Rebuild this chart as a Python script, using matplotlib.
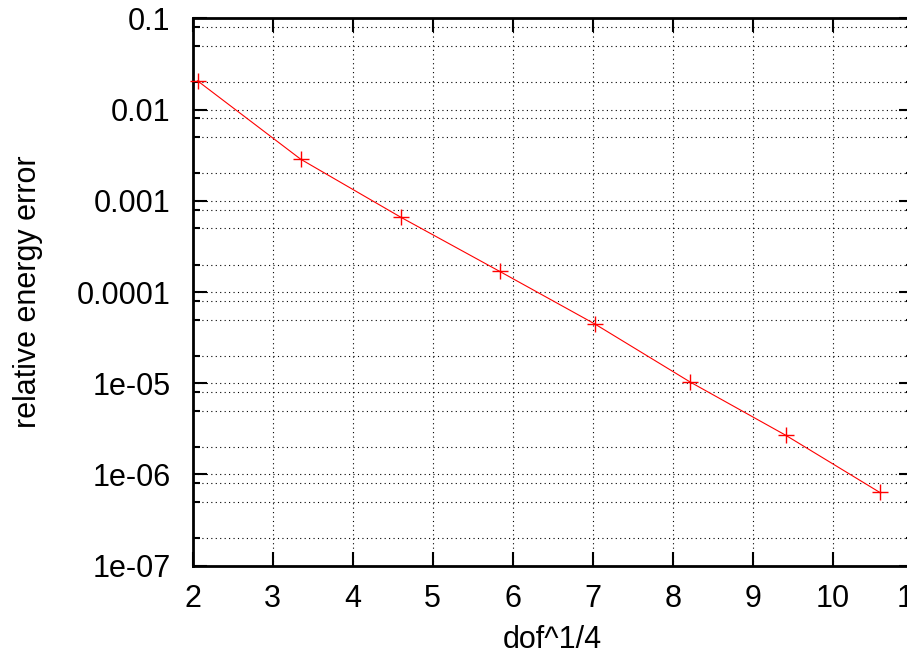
import matplotlib
matplotlib.use("Agg")
import matplotlib.pyplot as plt
from matplotlib.ticker import FixedLocator, FixedFormatter, LogLocator, NullFormatter

# data
dof_quarter = [2.06, 3.35, 4.60, 5.84, 7.03, 8.22, 9.41, 10.59]
rel_energy_error = [0.0207, 0.00286, 0.000662, 0.000168, 4.45e-5, 1.03e-5, 2.70e-6, 6.35e-7]

x_ticks = [2, 3, 4, 5, 6, 7, 8, 9, 10, 11]
y_ticks = [1e-7, 1e-6, 1e-5, 1e-4, 1e-3, 1e-2, 1e-1]
y_tick_labels = ["1e-07", "1e-06", "1e-05", "0.0001", "0.001", "0.01", "0.1"]

plt.rcParams["font.family"] = ["Liberation Sans", "DejaVu Sans"]

fig = plt.figure(figsize=(9.07, 6.59), dpi=100)
# right edge sits just past the figure, like the reference (the "11" label is cut)
ax = fig.add_axes([192.7 / 907, 93.3 / 659, 720 / 907, 547.3 / 659])

ax.plot(dof_quarter, rel_energy_error, color="#ff0000", linewidth=0.8,
        marker="+", markersize=11, markeredgewidth=1.0, zorder=5, clip_on=False)

ax.set_yscale("log")
ax.set_xlim(2, 11)
ax.set_ylim(1e-7, 1e-1)

ax.xaxis.set_major_locator(FixedLocator(x_ticks))
ax.yaxis.set_major_locator(FixedLocator(y_ticks))
ax.yaxis.set_major_formatter(FixedFormatter(y_tick_labels))
ax.yaxis.set_minor_locator(LogLocator(base=10, subs=(2, 5, 8)))
ax.yaxis.set_minor_formatter(NullFormatter())

ax.grid(True, which="major", axis="both", color="black", linestyle=(0, (1, 3)), linewidth=0.8)
ax.grid(True, which="minor", axis="y", color="black", linestyle=(0, (1, 3)), linewidth=0.8)

ax.tick_params(which="both", direction="in", top=True, right=True, width=1.5,
               labelsize=22, colors="black")
ax.tick_params(which="major", length=10)
ax.tick_params(which="minor", length=5)
ax.tick_params(axis="x", which="major", pad=13)
ax.tick_params(axis="y", which="major", pad=16)

for s in ax.spines.values():
    s.set_linewidth(2)

ax.set_xlabel("dof^1/4", fontsize=22, labelpad=8)
ax.set_ylabel("relative energy error", fontsize=22, labelpad=24)

fig.savefig("out.png", dpi=100)
